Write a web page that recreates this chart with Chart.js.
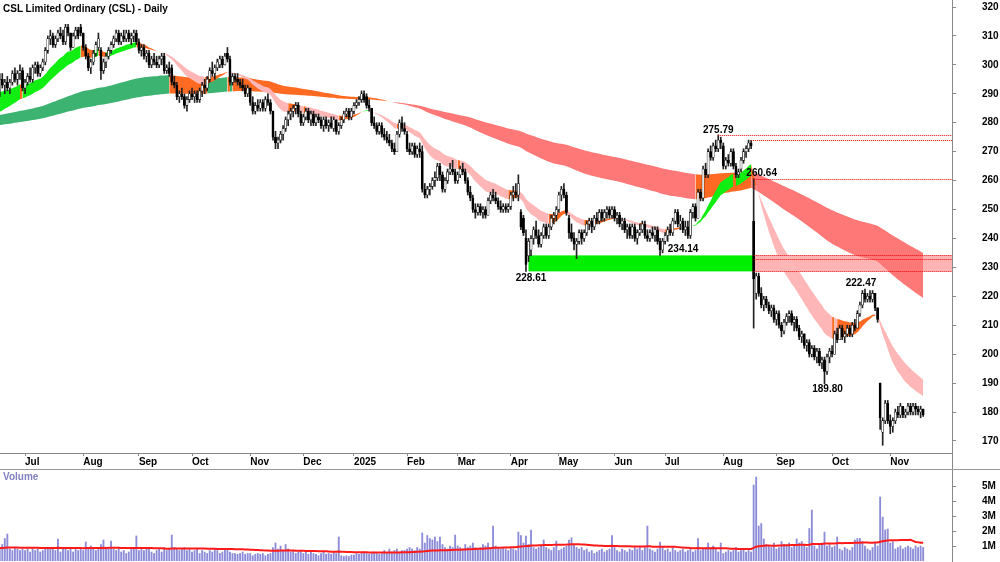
<!DOCTYPE html>
<html>
<head>
<meta charset="utf-8">
<title>CSL Limited Ordinary (CSL) - Daily</title>
<script src="https://cdn.jsdelivr.net/npm/chart.js@4.4.1/dist/chart.umd.min.js"></script>
<style>
  body { margin: 0; background: #fff; }
  #wrap { position: relative; width: 1000px; height: 562px; overflow: hidden; font-family: "Liberation Sans", Arial, sans-serif; }
  #priceChart { position: absolute; left: 0; top: 0; }
  #volChart { position: absolute; left: 0; top: 470px; }
  #sep { position: absolute; left: 0; top: 469px; width: 1000px; height: 1px; background: #999; }
  .lbl { position: absolute; font-weight: bold; font-size: 10px; white-space: nowrap; }
  #title { left: 3px; top: 3px; color: #000; }
  #volTitle { left: 3px; top: 471px; color: #8080c0; }
</style>
</head>
<body>
<div id="wrap">
  <canvas id="priceChart" width="1000" height="470"></canvas>
  <canvas id="volChart" width="1000" height="92"></canvas>
  <div id="sep"></div>
  <div id="title" class="lbl">CSL Limited Ordinary (CSL) - Daily</div>
  <div id="volTitle" class="lbl">Volume</div>
</div>
<script>
// trading-day index of the first session of each month, and its label
const monthIdx = [10, 33, 55, 76, 99, 120, 140, 161, 181, 202, 221, 243, 263, 286, 307, 329, 352];
const monthLabels = ['Jul', 'Aug', 'Sep', 'Oct', 'Nov', 'Dec', '2025', 'Feb', 'Mar', 'Apr', 'May', 'Jun', 'Jul', 'Aug', 'Sep', 'Oct', 'Nov'];
const priceTicks = [170, 180, 190, 200, 210, 220, 230, 240, 250, 260, 270, 280, 290, 300, 310, 320];
const volTicks = [1, 2, 3, 4, 5];

// daily OHLC, 17 Jun 2024 .. 19 Nov 2025
const opens = [
  291,295,293,294,292,294,297,295,297,298, 292,294,296,295,299,300,297,299,301,305,
  309,310,307,309,311,310,308,313,311,306, 310,312,313,311,306,303,299,301,304,306,
  305,298,301,303,305,307,309,311,308,310, 309,311,309,310,311,308,305,306,303,304,
  300,302,301,300,302,303,298,299,299,294, 293,289,290,289,286,288,290,289,290,288,
  291,293,292,295,298,297,299,300,302,300, 304,302,294,296,295,294,293,292,290,292,
  287,284,286,285,287,285,288,287,284,275, 273,274,276,278,281,283,284,285,286,283,
  280,282,284,281,283,280,282,281,279,281, 279,280,278,281,277,279,281,283,284,282,
  284,286,287,288,290,289,286,285,280,279, 277,279,276,275,274,273,271,270,276,280,
  278,276,271,270,272,269,271,270,257,255, 257,258,260,261,265,262,257,260,263,264,
  263,260,262,264,263,260,256,254,250,249, 251,249,250,248,253,255,254,253,251,250,
  251,250,251,255,256,255,249,247,240,234, 236,240,243,241,238,241,244,241,244,247,
  248,250,255,257,255,247,242,240,238,239, 242,240,242,245,246,244,247,246,249,247,
  249,250,248,250,247,248,245,246,243,244, 241,244,240,242,243,245,241,240,242,241,
  243,239,236,239,241,243,242,246,249,245, 246,243,244,241,249,251,247,256,254,264,
  262,270,268,272,271,274,272,265,267,266, 270,265,262,264,267,270,271,273,246,221,
  227,221,217,219,217,215,216,212,214,210, 208,211,213,214,211,212,209,206,207,203,
  204,200,202,199,201,197,198,194,199,201, 200,207,205,209,206,207,209,207,210,209,
  214,217,221,219,220,219,221,216,190,173, 177,183,177,175,177,180,179,182,179,180,
  182,180,182,181,180,181
];
const highs = [
  297,297,295,296,295,298,299,298,300,299, 295,297,299,300,301,301,300,302,306,310,
  312,311,310,312,313,312,314,314,311,311, 313,313,314,311,307,304,302,305,308,311,
  306,302,304,306,308,310,312,312,311,312, 312,312,311,312,312,309,307,307,305,305,
  303,304,303,303,304,304,300,301,300,296, 294,291,292,290,289,291,292,291,291,292,
  294,295,296,299,301,300,302,303,303,304, 306,303,297,297,297,295,295,293,293,292,
  289,287,288,288,288,289,290,288,284,277, 275,277,279,282,284,285,286,287,287,284,
  283,285,285,284,284,283,283,282,282,282, 281,282,282,281,280,282,284,285,285,285,
  287,288,289,291,291,290,288,285,282,280, 280,280,278,277,276,274,273,277,281,282,
  280,277,273,273,273,272,273,272,259,258, 259,261,263,266,266,263,261,264,266,267,
  264,263,265,266,264,261,258,255,252,252, 252,251,251,254,256,257,256,254,253,252,
  252,252,256,258,259,262,250,248,243,240, 241,244,246,243,242,245,245,245,248,249,
  251,256,258,259,256,248,245,242,240,243, 243,243,246,247,247,248,249,250,250,250,
  251,251,251,251,249,249,247,247,245,245, 245,245,243,245,246,246,243,243,244,244,
  244,240,240,242,244,245,247,250,250,248, 247,246,246,250,252,252,257,257,265,266,
  271,272,273,274,275.79,275,273,268,269,271, 271,266,264,268,271,272,274,273.9,260.64,228,
  228,223,220,220,218,217,217,215,215,211, 212,214,215,215,213,213,210,208,207,205,
  205,203,203,202,202,199,199,200,202,203, 208,209,210,210,208,210,210,211,212,215,
  218,222,222.47,221,222,222,221,216,190,178, 184,184,179,178,181,182,183,182,181,183,
  183,183,183,182,182,181
];
const lows = [
  289,292,290,291,290,293,294,293,295,291, 290,293,294,294,297,296,296,298,300,304,
  307,306,306,308,309,307,307,310,305,306, 309,309,310,305,302,298,297,300,303,305,
  295,297,299,302,304,306,308,307,307,308, 308,308,307,308,307,304,303,302,301,299,
  299,300,299,299,300,297,297,296,293,292, 288,287,288,285,284,287,288,287,287,287,
  289,290,291,294,296,295,298,299,299,300, 301,293,293,294,293,292,291,289,289,286,
  283,283,284,284,284,284,286,283,274,271, 271,273,274,277,279,281,282,283,282,279,
  279,281,280,279,279,279,280,278,277,278, 277,278,277,276,276,278,280,282,281,281,
  283,285,286,287,287,285,284,279,278,276, 276,275,274,273,272,270,269,270,275,277,
  276,270,269,269,268,268,268,256,254,254, 255,257,258,260,260,256,256,259,262,262,
  259,259,261,262,259,255,253,249,247,248, 248,247,247,248,252,253,252,250,249,249,
  249,249,250,253,254,253,243,241,228.61,232, 234,238,240,237,237,240,240,240,243,245,
  246,249,253,254,248,240,239,236,233,238, 238,239,241,243,242,243,245,245,246,246,
  247,247,247,246,245,244,243,242,240,240, 240,239,238,241,242,240,239,239,240,239,
  238,234.14,235,238,239,241,241,245,244,243, 242,241,240,240,247,246,247,253,253,261,
  261,267,267,270,270,271,264,264,265,265, 264,261,261,263,266,268,270,271,209,219,
  220,216,215,216,214,213,211,210,209,206, 207,210,211,210,208,208,205,204,202,201,
  199,199,198,197,196,195,189.8,193,197,199, 200,204,205,205,204,206,206,206,208,209,
  213,216,218,218,218,218,215,211,174,168.5, 176,176,172.5,173,176,178,178,178,178,179,
  179,179,179,179,178,178.5
];
const closes = [
  295,293,294,292,294,297,295,297,298,292, 294,296,295,299,300,297,299,301,305,309,
  310,307,309,311,310,308,313,311,306,310, 312,310,311,306,303,299,301,304,307,309,
  298,301,303,305,307,309,311,308,310,309, 311,309,310,311,308,305,306,303,304,300,
  302,301,300,302,303,298,299,297,294,293, 289,290,289,286,288,290,289,290,288,291,
  293,292,295,298,297,299,301,302,300,303, 302,294,296,295,294,293,292,290,292,287,
  284,286,285,287,285,288,287,284,275,273, 274,276,278,281,283,284,285,286,283,280,
  282,284,281,283,280,282,281,279,281,279, 280,278.5,281,277,279,281,283,284,282,284,
  286,287,288,290,288,286,285,280,279,277, 279,276,275,274,273,271,270,276,280,278,
  277,271,270,272,269,271,270,257,255,257, 258,260,261,265,262,257,260,263,264,263,
  260,262,264,263,260,256,254,250,249,251, 249,250,248,253,255,254,253,251,250,251,
  250,251,255,256,255,259,244,242,231,239, 240,243,241,238,241,244,241,244,247,248,
  250,255,257,255,249,242,240,238,239,242, 240,242,245,246,244,247,246,249,247,249,
  250,248,250,247,248,245,246,243,244,241, 244,240,242,243,245,241,240,242,241,243,
  239,236,239,241,243,242,246,249,245,246, 243,244,241,249,251,247,256,254,264,262,
  270,268,272,271,274,273,265,267,266,270, 265,262,263,267,270,271,273,272,226,227,
  221,217,219,217,215,216,212,214,210,208, 211,213,214,211,212,209,206,207,203,204,
  200,202,199,201,197,198,194,199,201,200, 207,205,209,206,207,209,207,210,209,214,
  217,221,219,220,219,221,216,212,178,177, 183,177,175,177,180,179,182,179,180,182,
  180,182,181,180,181,179
];
// daily volume, millions of shares
const volumes = [
  0.9,1.1,1.5,1.8,0.8,0.7,0.9,0.8,0.7,0.8, 0.7,0.8,0.6,0.9,0.7,0.8,0.6,0.7,0.8,0.9,
  0.8,0.9,0.7,1.47,0.6,0.8,0.9,0.7,0.8,0.6, 0.9,0.7,0.8,0.7,1.27,0.9,1.0,0.8,0.7,0.9,
  1.1,1.4,0.8,0.9,1.33,0.8,0.7,0.9,0.6,0.7, 0.5,0.6,0.8,0.9,1.67,0.7,0.8,0.7,0.9,0.8,
  0.6,0.5,0.7,0.8,0.6,0.9,0.7,0.8,1.73,0.9, 0.8,0.7,0.8,0.9,0.7,0.8,0.6,0.7,0.8,0.5,
  0.7,0.6,0.5,0.7,0.6,0.8,0.7,0.5,0.6,0.8, 0.7,0.6,0.5,0.5,0.45,0.5,0.6,0.45,0.5,0.5,
  0.35,0.45,0.5,0.45,0.5,0.35,0.45,0.5,0.9,1.2, 0.8,1.0,0.7,1.1,0.8,0.6,0.7,0.5,0.6,0.7,
  0.5,0.6,0.45,0.6,0.5,0.45,0.35,0.5,0.6,0.45, 0.5,0.45,0.6,0.5,1.6,0.35,0.3,0.35,0.3,0.4,
  0.4,0.5,0.45,0.5,0.6,0.5,0.45,0.5,0.6,0.5, 0.45,0.5,0.7,0.5,0.8,0.6,0.7,0.8,0.6,0.7,
  0.7,0.8,0.9,0.8,0.7,0.9,0.8,1.87,1.2,1.7, 1.5,1.4,1.6,1.3,1.6,1.1,0.9,0.8,1.0,0.9,
  1.73,1.0,0.9,0.8,1.1,0.9,1.0,1.2,0.9,0.8, 0.9,1.1,1.0,1.2,0.9,2.33,1.0,0.9,0.8,0.9,
  0.8,0.7,0.9,0.8,0.7,1.93,1.7,1.2,1.67,1.1, 2.07,0.9,0.8,0.9,1.0,1.4,0.9,0.8,0.7,0.9,
  1.33,0.7,0.8,0.9,1.0,1.4,1.55,1.1,0.9,0.8, 0.9,0.7,0.8,0.6,0.7,0.5,0.6,0.7,0.8,0.6,
  0.7,0.8,1.7,0.9,0.7,0.6,0.8,0.7,0.6,0.8, 0.7,0.9,0.8,0.9,0.7,0.9,2.33,0.8,0.7,0.6,
  0.8,1.27,0.9,0.7,0.8,0.6,0.9,0.7,0.6,0.7, 0.8,0.6,0.7,0.8,0.6,0.7,1.5,0.7,0.8,0.9,
  1.2,0.9,1.0,0.8,0.6,1.2,0.5,0.6,0.7,0.6, 0.7,0.9,0.6,0.7,0.8,0.6,0.7,0.6,5.07,5.6,
  2.33,2.5,1.47,1.1,1.0,0.9,1.2,0.8,0.9,1.3, 1.1,1.0,1.2,0.9,1.0,1.47,1.2,1.3,1.1,0.9,
  2.17,3.4,1.0,0.8,1.1,1.2,1.93,1.0,1.1,0.9, 1.0,1.6,0.8,0.7,0.9,0.8,0.7,0.9,1.4,1.5,
  1.5,1.3,1.0,0.8,0.7,0.9,1.2,1.0,4.27,2.93, 2.07,2.13,1.2,1.3,0.8,0.9,1.0,0.8,0.9,1.0,
  0.9,0.8,1.0,0.9,1.0,0.9
];

// marked swing points and levels
const swingIdx = [208, 261, 284, 298, 326, 342];
const swingVal = [228.61, 234.14, 275.79, 260.64, 189.80, 222.47];
const lineStart = [284, 297, 298];
const lineVal = [275.79, 273.9, 260.64];
const zoneVals = [234.14, 232.8, 228.61];
const zoneStart = 209, zoneBreak = 298;

// ribbon averages: short fast/slow, long fast/slow, with their values on the first day
const emaPeriods = [20, 33, 130, 230];
const emaSeeds = [290.6, 283.7, 282.7, 279.2];
const volAvgPeriod = 63, volAvgSeed = 0.87;

function ema(vals, n, seed) {
  const a = 2 / (n + 1);
  let e = seed;
  return vals.map((v, i) => { if (i > 0) e += a * (v - e); return e; });
}
function sma(vals, n, seed) {
  return vals.map((v, i) => {
    let s = 0;
    for (let k = i - n + 1; k <= i; k++) s += k < 0 ? seed : vals[k];
    return s / n;
  });
}
const [sFast, sSlow, lFast, lSlow] = emaPeriods.map((n, k) => ema(closes, n, emaSeeds[k]));
const volAvg = sma(volumes, volAvgPeriod, volAvgSeed);
const pts = arr => arr.map((v, i) => ({ x: i, y: v }));

function ribbonColor(fast, slow, up, down, mixed) {
  return ctx => {
    const i = ctx.p1DataIndex;
    const rising = fast[i] >= fast[i - 1];
    if (fast[i] > slow[i] && rising) return up;
    if (fast[i] < slow[i] && !rising) return down;
    return mixed;
  };
}

Chart.defaults.font.family = '"Liberation Sans", Arial, sans-serif';
Chart.defaults.font.size = 10;
Chart.defaults.font.weight = 'bold';
Chart.defaults.color = '#000';

const labelNudge = [[5, 7], [23, -6], [0, -5], [8, -5], [3, 6], [-4, -6]];

const levelsPlugin = {
  id: 'levels',
  beforeDatasetsDraw(chart) {
    const { ctx, chartArea: a, scales: { x, y } } = chart;
    const xs = x.getPixelForValue(zoneStart), xb = x.getPixelForValue(zoneBreak);
    const yt = y.getPixelForValue(zoneVals[0]), yb = y.getPixelForValue(zoneVals[2]);
    ctx.save();
    ctx.fillStyle = '#00ee00';
    ctx.fillRect(xs, yt, xb - xs, yb - yt);
    ctx.fillStyle = '#ffb3b3';
    ctx.fillRect(xb, yt, a.right - xb, yb - yt);
    ctx.restore();
  },
  afterDatasetsDraw(chart) {
    const { ctx, chartArea: a, scales: { x, y } } = chart;
    ctx.save();
    ctx.strokeStyle = '#ee0000';
    ctx.lineWidth = 1;
    ctx.setLineDash([1, 1]);
    const dotted = (x0, v) => {
      const yy = Math.round(y.getPixelForValue(v)) + 0.5;
      ctx.beginPath(); ctx.moveTo(x0, yy); ctx.lineTo(a.right, yy); ctx.stroke();
    };
    const xb = x.getPixelForValue(zoneBreak);
    zoneVals.forEach(v => dotted(xb, v));
    lineVal.forEach((v, k) => dotted(x.getPixelForValue(lineStart[k]), v));
    ctx.setLineDash([]);
    ctx.fillStyle = '#000';
    ctx.font = 'bold 10px "Liberation Sans", Arial, sans-serif';
    ctx.textAlign = 'center';
    ctx.textBaseline = 'middle';
    swingIdx.forEach((idx, k) => {
      const px = x.getPixelForValue(idx) + labelNudge[k][0];
      const py = y.getPixelForValue(swingVal[k]) + labelNudge[k][1];
      ctx.fillText(swingVal[k].toFixed(2), px, py);
    });
    // axis line through the date strip
    ctx.strokeStyle = '#888';
    ctx.beginPath(); ctx.moveTo(a.right + 0.5, a.bottom); ctx.lineTo(a.right + 0.5, chart.height); ctx.stroke();
    ctx.restore();
  }
};

const xRange = { type: 'linear', min: 0.1, max: 376.4, offset: false };

new Chart(document.getElementById('priceChart'), {
  type: 'bar',
  data: {
    datasets: [
      { type: 'line', data: pts(lFast), fill: '+1', borderWidth: 0, pointRadius: 0, order: 5,
        backgroundColor: '#ff7878',
        segment: { backgroundColor: ribbonColor(lFast, lSlow, '#3cb371', '#ff7878', '#ff6a22') } },
      { type: 'line', data: pts(lSlow), borderWidth: 0, pointRadius: 0, order: 4 },
      { type: 'line', data: pts(sFast), fill: '+1', borderWidth: 0, pointRadius: 0, order: 3,
        backgroundColor: '#ffb6b6',
        segment: { backgroundColor: ribbonColor(sFast, sSlow, '#11ee11', '#ffb6b6', '#ff6a22') } },
      { type: 'line', data: pts(sSlow), borderWidth: 0, pointRadius: 0, order: 2 },
      { type: 'bar', data: closes.map((c, i) => ({ x: i, y: [lows[i], highs[i]] })),
        backgroundColor: '#222', barThickness: 1, grouped: false, order: 1 },
      { type: 'bar', data: closes.map((c, i) => ({ x: i, y: [opens[i], c] })),
        backgroundColor: ctx => closes[ctx.dataIndex] >= opens[ctx.dataIndex] ? '#fff' : '#000',
        borderColor: '#000', borderWidth: 0.6, borderSkipped: false,
        barThickness: 2.2, grouped: false, order: 0 }
    ]
  },
  options: {
    responsive: false, animation: false, devicePixelRatio: 1, events: [],
    layout: { padding: 0 },
    plugins: { legend: { display: false }, tooltip: { enabled: false } },
    scales: {
      x: { ...xRange, position: 'bottom',
        afterBuildTicks: s => { s.ticks = monthIdx.map(v => ({ value: v })); },
        afterFit: s => { s.height = 17; s.paddingLeft = 0; s.paddingRight = 0; },
        ticks: { autoSkip: false, maxRotation: 0, align: 'start', padding: 0,
          callback: (v, i) => monthLabels[i] },
        grid: { offset: false, drawOnChartArea: false, tickLength: 3, color: '#888' },
        border: { color: '#888' } },
      y: { position: 'right', min: 165.83, max: 322.42,
        afterBuildTicks: s => { s.ticks = priceTicks.map(v => ({ value: v })); },
        afterFit: s => { s.width = 48; s.paddingTop = 0; s.paddingBottom = 0; },
        ticks: { padding: 26 },
        grid: { drawOnChartArea: false, tickLength: 4, color: '#888' },
        border: { color: '#888' } }
    }
  },
  plugins: [levelsPlugin]
});

new Chart(document.getElementById('volChart'), {
  type: 'bar',
  data: {
    datasets: [
      { type: 'line', data: pts(volAvg), borderColor: '#ff1a1a', borderWidth: 2, pointRadius: 0, order: 0 },
      { type: 'bar', data: pts(volumes), backgroundColor: '#8c8cd8', barThickness: 1.2, grouped: false, order: 1 }
    ]
  },
  options: {
    responsive: false, animation: false, devicePixelRatio: 1, events: [],
    layout: { padding: { bottom: 1 } },
    plugins: { legend: { display: false }, tooltip: { enabled: false } },
    scales: {
      x: { ...xRange, display: false },
      y: { position: 'right', min: 0, max: 6.07,
        afterBuildTicks: s => { s.ticks = volTicks.map(v => ({ value: v })); },
        afterFit: s => { s.width = 48; s.paddingTop = 0; s.paddingBottom = 0; },
        ticks: { padding: 26, callback: v => v + 'M' },
        grid: { drawOnChartArea: false, tickLength: 4, color: '#888' },
        border: { color: '#888' } }
    }
  }
});
</script>
</body>
</html>
